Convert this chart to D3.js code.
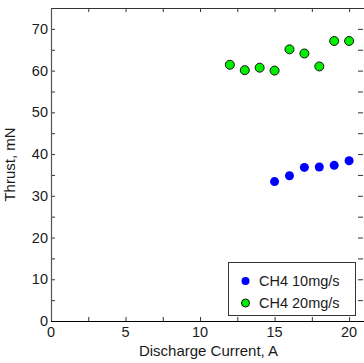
<!DOCTYPE html>
<html><head><meta charset="utf-8">
<script src="https://cdn.jsdelivr.net/npm/d3@7"></script>
<style>body{margin:0;background:#fff}svg{display:block}text{font-family:"Liberation Sans",Arial,sans-serif;fill:#1a1a1a}</style>
</head><body>
<svg id="c" width="364" height="363"></svg>
<script>
const xTicks = [0, 5, 10, 15, 20];
const yTicks = [0, 10, 20, 30, 40, 50, 60, 70];
const xLow = [15, 16, 17, 18, 19, 20];
const yLow = [33.4, 34.8, 36.8, 36.9, 37.3, 38.4];
const xHigh = [12, 13, 14, 15, 16, 17, 18, 19, 20];
const yHigh = [61.4, 60.1, 60.7, 60.0, 65.1, 64.1, 61.0, 67.1, 67.1];
const seriesNames = ["CH4 10mg/s", "CH4 20mg/s"];
const xTitle = "Discharge Current, A";
const yTitle = "Thrust, mN";

const L = 51, R = 364, T = 8, B = 321;
const svg = d3.select("#c");
const x = d3.scaleLinear().domain([0, 21]).range([L, R]);
const y = d3.scaleLinear().domain([0, 75]).range([B, T]);
const fs = 14.5;

const xMinor = d3.range(0, 21.01, 2.5);
const yMinor = d3.range(0, 75.01, 5);

const gB = svg.append("g").attr("transform", `translate(0,${B})`)
  .call(d3.axisBottom(x).tickValues(xMinor).tickSize(-4).tickFormat(""));
const gT = svg.append("g").attr("transform", `translate(0,${T})`)
  .call(d3.axisTop(x).tickValues(xMinor).tickSize(-4).tickFormat(""));
const gL = svg.append("g").attr("transform", `translate(${L},0)`)
  .call(d3.axisLeft(y).tickValues(yMinor).tickSize(-4).tickFormat(""));
const gR = svg.append("g").attr("transform", `translate(${R - 1},0)`)
  .call(d3.axisRight(y).tickValues(yMinor).tickSize(-5).tickFormat(""));
[gB, gT, gL, gR].forEach(g => {
  g.select(".domain").remove();
  g.selectAll("line").attr("stroke", "#333");
});

svg.append("line").attr("x1", L).attr("x2", R).attr("y1", B + 0.5).attr("y2", B + 0.5).attr("stroke", "#000").attr("stroke-width", 1.2);
svg.append("line").attr("x1", L).attr("x2", R).attr("y1", T + 0.5).attr("y2", T + 0.5).attr("stroke", "#333");
svg.append("line").attr("x1", L + 0.5).attr("x2", L + 0.5).attr("y1", T).attr("y2", B).attr("stroke", "#555").attr("stroke-width", 1.2);

svg.append("g").selectAll("text").data(xTicks).join("text")
  .attr("x", d => x(d)).attr("y", B + 16).attr("text-anchor", "middle")
  .attr("font-size", fs).text(d => d);
svg.append("g").selectAll("text").data(yTicks).join("text")
  .attr("x", L - 3).attr("y", d => y(d) + 5).attr("text-anchor", "end")
  .attr("font-size", fs).text(d => d);

svg.append("text").attr("x", (L + R) / 2 + 1).attr("y", 356).attr("text-anchor", "middle")
  .attr("font-size", 15).text(xTitle);
svg.append("text").attr("transform", `translate(15,${(T + B) / 2}) rotate(-90)`)
  .attr("text-anchor", "middle").attr("font-size", 15).text(yTitle);

svg.append("g").selectAll("circle").data(xLow.map((d, i) => [d, yLow[i]])).join("circle")
  .attr("cx", d => x(d[0])).attr("cy", d => y(d[1])).attr("r", 4.5).attr("fill", "#0000ff");
svg.append("g").selectAll("circle").data(xHigh.map((d, i) => [d, yHigh[i]])).join("circle")
  .attr("cx", d => x(d[0])).attr("cy", d => y(d[1])).attr("r", 4.5)
  .attr("fill", "#00f000").attr("stroke", "#111").attr("stroke-width", 1);

const lg = svg.append("g");
lg.append("rect").attr("x", 228.5).attr("y", 262.5).attr("width", 127).attr("height", 53)
  .attr("fill", "#fff").attr("stroke", "#333");
const colors = ["#0000ff", "#00f000"];
seriesNames.forEach((n, i) => {
  const cy = 281 + i * 22;
  lg.append("circle").attr("cx", 245.5).attr("cy", cy).attr("r", 4)
    .attr("fill", colors[i]).attr("stroke", i ? "#111" : "none");
  lg.append("text").attr("x", 259).attr("y", cy + 5).attr("font-size", 14.5).text(n);
});
</script>
</body></html>
